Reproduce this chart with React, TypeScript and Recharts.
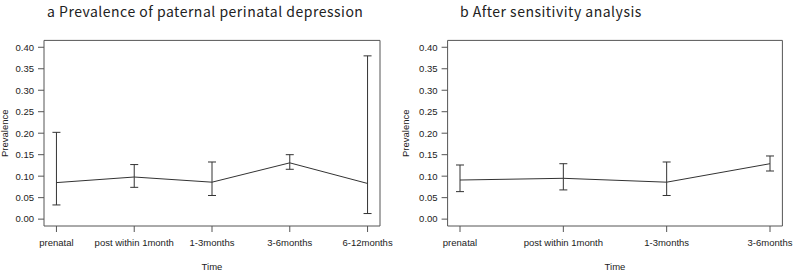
import React from 'react';
import {
  LineChart,
  Line,
  XAxis,
  YAxis,
  ErrorBar,
  ReferenceArea,
} from 'recharts';

// panel a: all time points
const timesA = ['prenatal', 'post within 1month', '1-3months', '3-6months', '6-12months'];
const prevA = [0.085, 0.098, 0.086, 0.131, 0.083];
const lowerA = [0.033, 0.074, 0.055, 0.116, 0.013];
const upperA = [0.202, 0.127, 0.133, 0.15, 0.38];

// panel b: after sensitivity analysis
const timesB = ['prenatal', 'post within 1month', '1-3months', '3-6months'];
const prevB = [0.091, 0.095, 0.086, 0.129];
const lowerB = [0.064, 0.068, 0.055, 0.112];
const upperB = [0.126, 0.129, 0.133, 0.147];

const yTicks = [0, 0.05, 0.1, 0.15, 0.2, 0.25, 0.3, 0.35, 0.4];

const INK = '#222';
const FRAME = '#555';
const axisFont = { fontFamily: 'Liberation Sans, Arial, sans-serif', fontSize: 9.5, fill: INK };

const buildRows = (times: string[], prev: number[], lo: number[], hi: number[]) =>
  times.map((t, i) => ({
    x: i + 1,
    name: t,
    prev: prev[i],
    err: [prev[i] - lo[i], hi[i] - prev[i]],
  }));

interface PanelProps {
  title: string;
  titleX: number;
  times: string[];
  prev: number[];
  lower: number[];
  upper: number[];
  left: number;
  axisWidth: number;
  rightMargin: number;
  labelOffset: number;
}

const Panel: React.FC<PanelProps> = ({
  title,
  titleX,
  times,
  prev,
  lower,
  upper,
  left,
  axisWidth,
  rightMargin,
  labelOffset,
}) => {
  const rows = buildRows(times, prev, lower, upper);
  const pad = 0.04 * (times.length - 1);
  const xMin = 1 - pad;
  const xMax = times.length + pad;
  const yMin = -0.016;
  const yMax = 0.416;

  return (
    <div style={{ position: 'absolute', left, top: 0, width: 397, height: 273 }}>
      <div
        style={{
          position: 'absolute',
          left: titleX,
          top: 0,
          fontFamily: '"Noto Sans CJK JP", "Noto Sans", sans-serif',
          fontSize: 14,
          letterSpacing: 0.5,
          lineHeight: '22px',
          color: INK,
          whiteSpace: 'nowrap',
        }}
      >
        {title}
      </div>
      <LineChart
        width={397}
        height={273}
        data={rows}
        margin={{ top: 40.4, right: rightMargin, bottom: 3, left: 0 }}
      >
        <XAxis
          dataKey="x"
          type="number"
          domain={[xMin, xMax]}
          ticks={rows.map((r) => r.x)}
          tickFormatter={(v: number) => times[v - 1]}
          interval={0}
          height={44}
          axisLine={false}
          tickSize={6}
          tickMargin={7}
          tickLine={{ stroke: FRAME }}
          tick={axisFont}
          label={{ value: 'Time', position: 'insideBottom', offset: 0, style: axisFont }}
        />
        <YAxis
          type="number"
          domain={[yMin, yMax]}
          ticks={yTicks}
          tickFormatter={(v: number) => v.toFixed(2)}
          width={axisWidth}
          axisLine={false}
          tickSize={6}
          tickMargin={4}
          tickLine={{ stroke: FRAME }}
          tick={axisFont}
          label={{
            value: 'Prevalence',
            angle: -90,
            position: 'insideLeft',
            offset: labelOffset,
            style: { ...axisFont, textAnchor: 'middle' },
          }}
        />
        <ReferenceArea
          x1={xMin}
          x2={xMax}
          y1={yMin}
          y2={yMax}
          fill="none"
          fillOpacity={0}
          stroke={FRAME}
          strokeWidth={1}
        />
        <Line
          type="linear"
          dataKey="prev"
          stroke="#333"
          strokeWidth={1}
          dot={false}
          isAnimationActive={false}
        >
          <ErrorBar dataKey="err" direction="y" width={4} stroke="#333" strokeWidth={1} />
        </Line>
      </LineChart>
    </div>
  );
};

export default function App() {
  return (
    <div
      style={{
        position: 'absolute',
        left: 0,
        top: 0,
        width: 794,
        height: 273,
        background: '#fff',
        overflow: 'hidden',
      }}
    >
      <Panel
        title="a Prevalence of paternal perinatal depression"
        titleX={47}
        times={timesA}
        prev={prevA}
        lower={lowerA}
        upper={upperA}
        left={0}
        axisWidth={44}
        rightMargin={17}
        labelOffset={4.5}
      />
      <Panel
        title="b After sensitivity analysis"
        titleX={63}
        times={timesB}
        prev={prevB}
        lower={lowerB}
        upper={upperB}
        left={397}
        axisWidth={50.6}
        rightMargin={11.6}
        labelOffset={8.5}
      />
    </div>
  );
}
